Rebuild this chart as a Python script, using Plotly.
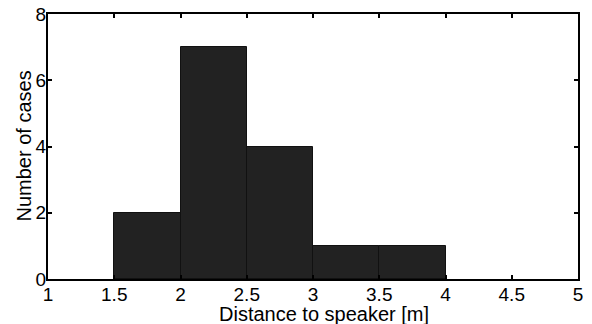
import plotly.graph_objects as go

bin_left = [1.5, 2.0, 2.5, 3.0, 3.5]
counts = [2, 7, 4, 1, 1]
bin_width = 0.5
x_ticks = [1, 1.5, 2, 2.5, 3, 3.5, 4, 4.5, 5]
x_tick_text = ["1", "1.5", "2", "2.5", "3", "3.5", "4", "4.5", "5"]
y_ticks = [0, 2, 4, 6, 8]
x_title = "Distance to speaker [m]"
y_title = "Number of cases"

centers = [b + bin_width / 2 for b in bin_left]

fig = go.Figure()
fig.add_trace(go.Bar(
    x=centers, y=counts, width=[bin_width] * len(counts),
    marker=dict(color="#222222", line=dict(color="#111111", width=1)),
))

font = dict(family="Liberation Sans, Arial, sans-serif", size=19, color="#000000")
title_font = dict(family="Liberation Sans, Arial, sans-serif", size=20, color="#000000")
fig.update_layout(
    width=592, height=324,
    margin=dict(l=48, r=14, t=14, b=45),
    paper_bgcolor="white", plot_bgcolor="white",
    showlegend=False, bargap=0,
    font=font,
    xaxis=dict(range=[1, 5], tickvals=x_ticks, ticktext=x_tick_text,
               ticks="inside", ticklen=4, tickwidth=1.5, tickcolor="black",
               showline=True, linecolor="black", linewidth=2, mirror="ticks",
               showgrid=False, zeroline=False, automargin=False,
               ticklabelstandoff=-3, tickfont=font),
    yaxis=dict(range=[0, 8], tickvals=y_ticks,
               ticks="inside", ticklen=4, tickwidth=1.5, tickcolor="black",
               showline=True, linecolor="black", linewidth=2, mirror="ticks",
               showgrid=False, zeroline=False, automargin=False,
               ticklabelstandoff=-4, tickfont=font),
    annotations=[
        dict(text=x_title, xref="paper", yref="paper", x=0.5, y=0,
             xanchor="center", yanchor="middle", xshift=11, yshift=-35,
             showarrow=False, font=title_font),
        dict(text=y_title, xref="paper", yref="paper", x=0, y=0.5,
             xanchor="center", yanchor="middle", xshift=-25, textangle=-90,
             showarrow=False, font=title_font),
    ],
)
fig.write_html("out.html", config={"displayModeBar": False},
               post_script="document.body.style.margin='0';document.body.style.overflow='hidden';")
